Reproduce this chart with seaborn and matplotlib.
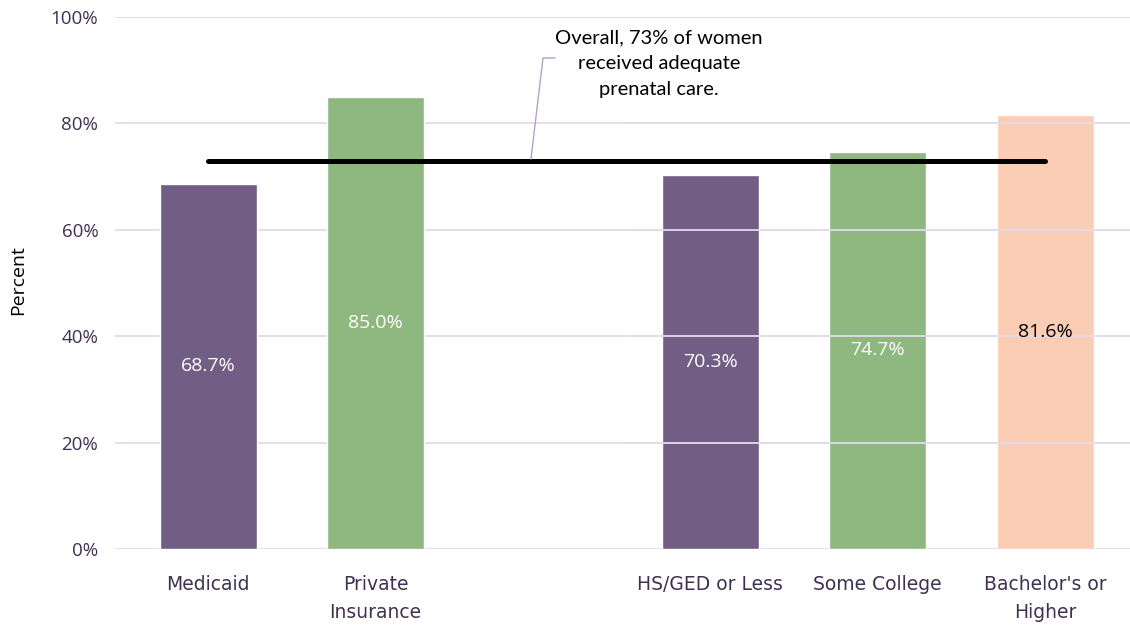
import matplotlib
matplotlib.use('Agg')
import matplotlib.pyplot as plt
import seaborn as sns
import pandas as pd
from matplotlib.ticker import FuncFormatter

# --- Data ---
CATEGORIES = ['Medicaid', 'Private\nInsurance', 'HS/GED or Less', 'Some College', "Bachelor's or\nHigher"]
VALUES = [68.7, 85.0, 70.3, 74.7, 81.6]
# blank slot separates insurance group from education group
ORDER = ['Medicaid', 'Private\nInsurance', ' ', 'HS/GED or Less', 'Some College', "Bachelor's or\nHigher"]
BAR_COLORS = ['#725e85', '#8fb780', '#725e85', '#8fb780', '#fbcdb4']
LABEL_COLORS = ['white', 'white', 'white', 'white', 'black']
OVERALL = 73
NOTE = 'Overall, 73% of women\nreceived adequate\nprenatal care.'

df = pd.DataFrame({'group': CATEGORIES, 'pct': VALUES})

sns.set_theme(style='white')
plt.rcParams['font.family'] = ['Open Sans', 'DejaVu Sans']

fig = plt.figure(figsize=(11.3, 6.25), dpi=100)
ax = fig.add_axes([0.1018, 0.1216, 0.8982, 0.8512])

sns.barplot(data=df, x='group', y='pct', hue='group', order=ORDER,
            palette=dict(zip(CATEGORIES, BAR_COLORS)), legend=False,
            width=0.58, saturation=1, ax=ax, zorder=2)

ax.set_ylim(0, 100)
ax.set_xlim(-0.557, 5.507)
ax.set_yticks(range(0, 101, 20))
ax.yaxis.set_major_formatter(FuncFormatter(lambda v, p: f'{v:.0f}%'))
ax.grid(axis='y', color='#e2dbea', linewidth=1.3, zorder=0)
ax.set_axisbelow(True)
for s in ax.spines.values():
    s.set_visible(False)

# gridlines show over the education bars in the original
x_lo, x_hi = ax.get_xlim()
for t in range(20, 100, 20):
    ax.hlines(t, 2.5, x_hi, color='#e2dbea', linewidth=1.3, zorder=3)

ax.tick_params(axis='x', length=0, pad=19, labelsize=13.5, labelcolor='#3f3151')
ax.tick_params(axis='y', length=0, pad=12, labelsize=13.5, labelcolor='#3f3151')
for lbl in ax.get_xticklabels():
    lbl.set_family(['DejaVu Sans'])
    lbl.set_linespacing(1.6)
ax.set_xlabel('')
ax.set_ylabel('Percent', fontsize=14, color='black')
ax.yaxis.set_label_coords(-0.087, 0.505)

# value labels in the middle of each bar
for cat, val, col in zip(CATEGORIES, VALUES, LABEL_COLORS):
    xpos = ORDER.index(cat)
    ax.text(xpos, val / 2, f'{val:.1f}%', ha='center', va='center',
            fontsize=14, color=col, zorder=5)

# overall line across all groups
ax.plot([0, len(ORDER) - 1], [OVERALL, OVERALL], color='black', linewidth=3.6,
        solid_capstyle='round', zorder=4)

# callout note with leader line
ax.text(2.693, 97.6, NOTE, ha='center', va='top', fontsize=14.5, linespacing=1.62,
        family=['Lato', 'DejaVu Sans'], color='black', zorder=5)
ax.plot([1.928, 2.0, 2.072], [OVERALL + 0.3, 92.3, 92.3], color='#b3a2cc',
        linewidth=1, zorder=5)

plt.savefig('out.png', dpi=100)
